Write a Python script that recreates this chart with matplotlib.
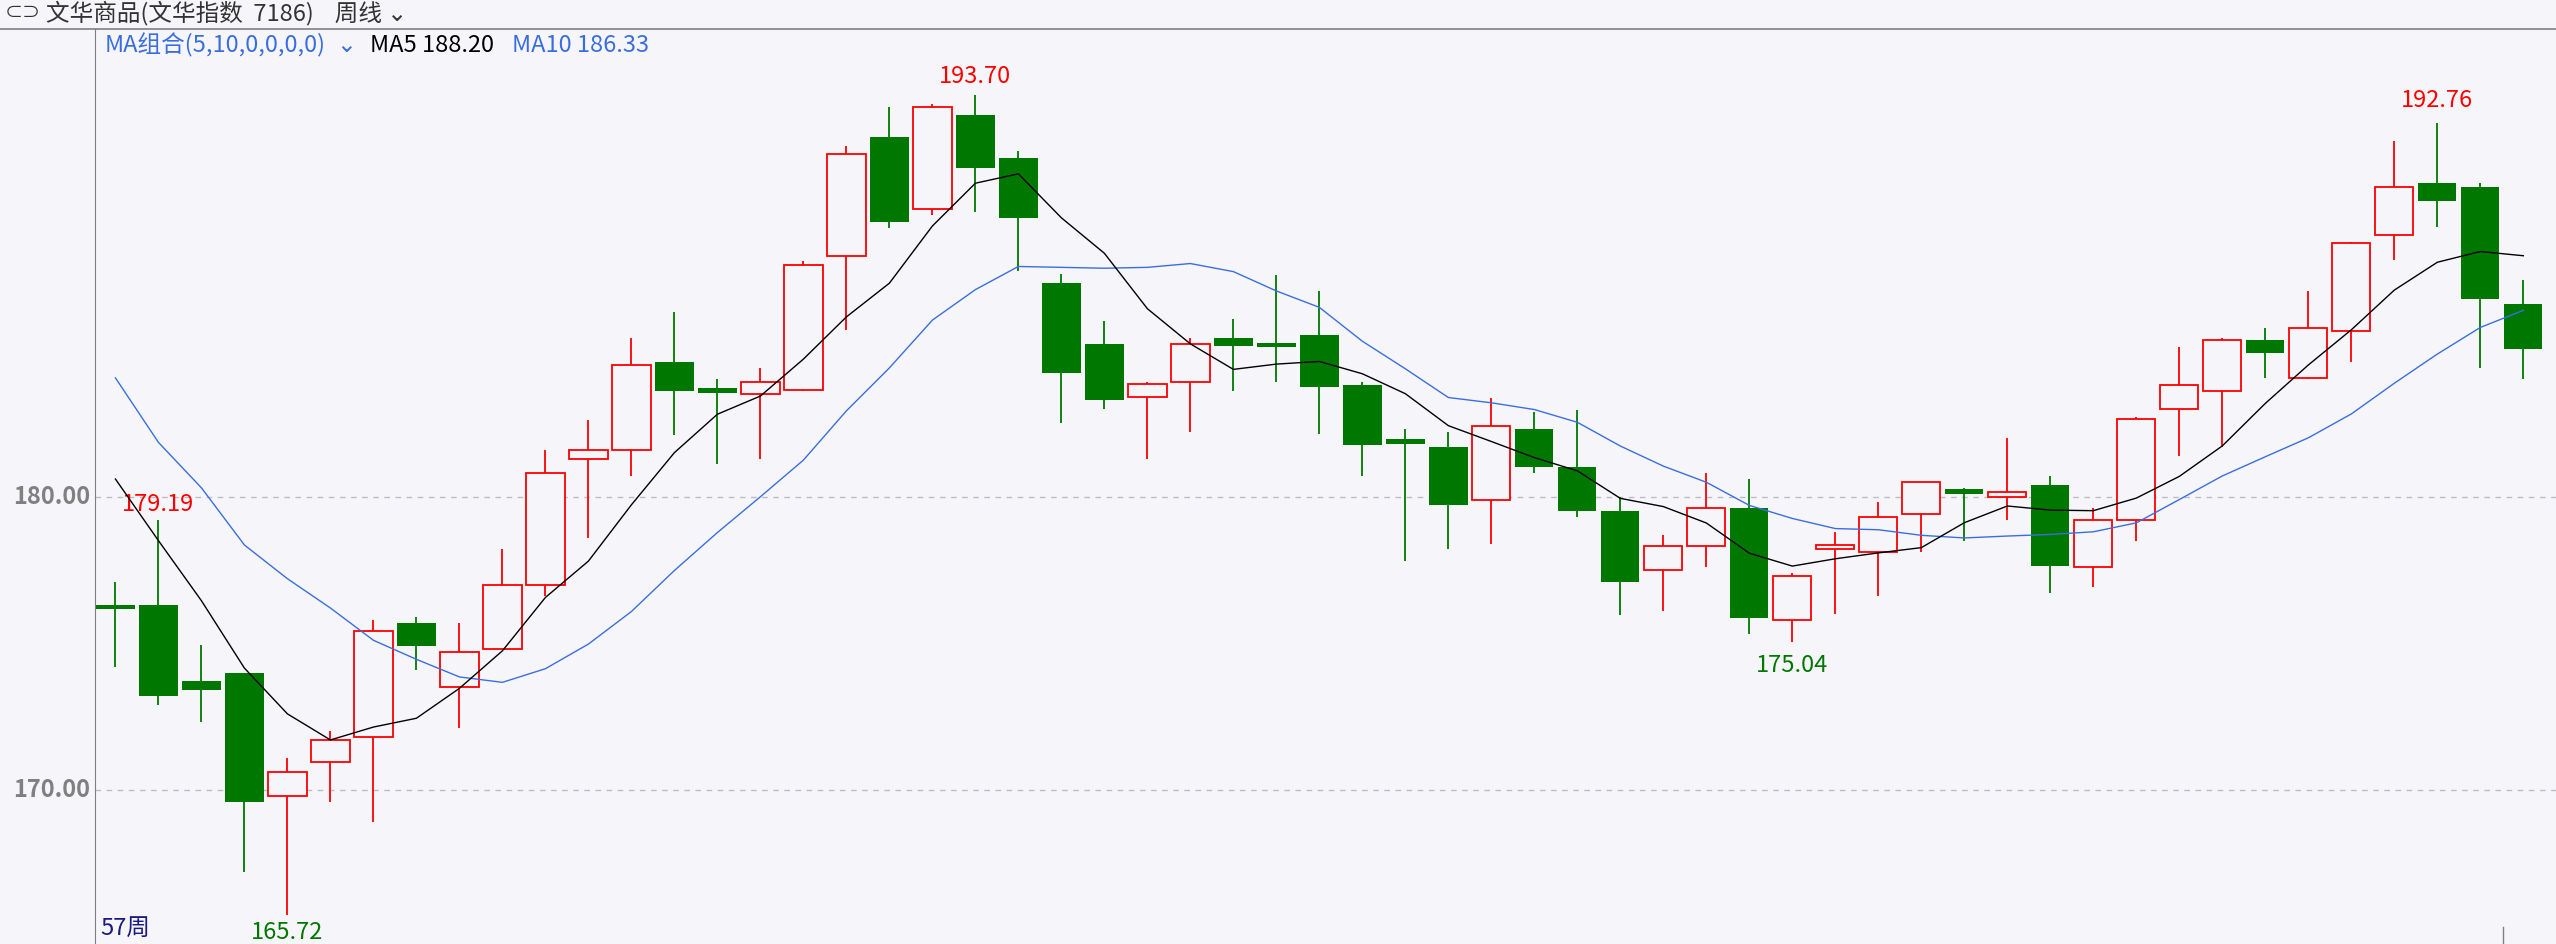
import numpy as np
import pandas as pd
import matplotlib
matplotlib.use('Agg')
import matplotlib.pyplot as plt

plt.rcParams['font.family'] = ['Noto Sans CJK SC', 'DejaVu Sans']

# 周线数据 (开, 高, 低, 收)
opens = [176.2, 176.3, 173.7, 174.0, 169.8, 170.95, 171.8, 175.7, 173.5, 174.8,
         177.0, 181.3, 181.6, 184.6, 183.6, 183.5, 183.65, 188.2, 192.25, 189.8,
         193.0, 191.55, 187.3, 185.2, 183.4, 183.9, 185.4, 185.25, 185.5, 183.8,
         181.9, 181.7, 179.9, 182.3, 181.0, 179.5, 177.5, 178.3, 179.6, 175.8,
         178.2, 178.1, 179.4, 180.15, 180.0, 180.4, 177.6, 179.2, 183.0, 183.6,
         185.35, 184.05, 185.65, 188.93, 190.7, 190.55, 186.57]
highs = [177.1, 179.19, 174.95, 174.0, 171.1, 172.0, 175.8, 175.9, 175.7, 178.2,
         181.6, 182.6, 185.4, 186.3, 184.0, 184.4, 188.05, 191.95, 193.3, 193.4,
         193.70, 191.8, 187.6, 186.0, 183.9, 185.4, 186.05, 187.55, 187.0, 183.9,
         182.3, 182.2, 183.35, 182.9, 182.95, 180.0, 178.7, 180.8, 180.6, 177.4,
         178.8, 179.8, 180.5, 180.3, 182.0, 180.7, 179.6, 182.7, 185.1, 185.4,
         185.75, 187.0, 188.7, 192.13, 192.76, 190.7, 187.4]
lows = [174.2, 172.9, 172.3, 167.2, 165.72, 169.6, 168.9, 174.1, 172.1, 174.8,
        176.6, 178.6, 180.7, 182.1, 181.1, 181.3, 183.6, 185.7, 189.15, 189.6,
        189.7, 187.7, 182.5, 183.0, 181.3, 182.2, 183.6, 183.9, 182.15, 180.7,
        177.8, 178.2, 178.4, 180.8, 179.3, 175.95, 176.1, 177.6, 175.3, 175.04,
        176.0, 176.6, 178.1, 178.5, 179.2, 176.7, 176.9, 178.5, 181.4, 181.7,
        184.05, 184.0, 184.6, 188.07, 189.18, 184.37, 184.0]
closes = [176.15, 173.2, 173.4, 169.6, 170.6, 171.7, 175.4, 174.9, 174.7, 177.0,
          180.8, 181.6, 184.5, 183.6, 183.55, 183.9, 187.9, 191.7, 189.35, 193.3,
          191.2, 189.5, 184.2, 183.3, 183.85, 185.2, 185.15, 185.1, 183.75, 181.75,
          181.8, 179.7, 182.4, 181.0, 179.5, 177.1, 178.3, 179.6, 175.85, 177.3,
          178.35, 179.3, 180.5, 180.1, 180.15, 177.65, 179.2, 182.65, 183.8, 185.35,
          184.9, 185.75, 188.65, 190.57, 190.1, 186.73, 185.03]
# 均线起始段 (依赖图外的历史数据)
ma5_head = [180.6, 178.5, 176.45, 174.15]
ma10_head = [184.05, 181.85, 180.3, 178.35, 177.2, 176.2, 175.1, 174.45, 173.85]

bg = '#f6f6fa'
red = '#ff0000'
green = '#007800'
blue = '#3a6ee0'

c = pd.Series(closes)
ma5 = c.rolling(5).mean().values
ma5[:4] = ma5_head
ma10 = c.rolling(10).mean().values
ma10[:9] = ma10_head
x = np.arange(len(closes))

fig = plt.figure(figsize=(25.56, 9.44), dpi=100, facecolor=bg)
ax = fig.add_axes([95 / 2556, 0, 1 - 95 / 2556, 915 / 944], facecolor=bg)

w = 0.89
for i in x:
    o, h, l, cl = opens[i], highs[i], lows[i], closes[i]
    if cl >= o:
        top, bot = cl, o
        ax.vlines(i, top, h, color=red, lw=1.3, zorder=2)
        ax.vlines(i, l, bot, color=red, lw=1.3, zorder=2)
        ax.bar(i, max(top - bot, 0.1), w, bottom=bot, facecolor=bg, edgecolor=red, lw=1.3, zorder=3)
    else:
        top, bot = o, cl
        ax.vlines(i, l, h, color=green, lw=1.3, zorder=2)
        ax.bar(i, max(top - bot, 0.15), w, bottom=bot, color=green, lw=0, zorder=3)

ax.plot(x, ma10, color=blue, lw=1.0, zorder=4)
ax.plot(x, ma5, color='black', lw=1.0, zorder=4)

for yv in [170, 180]:
    ax.axhline(yv, color='#bbbbc4', lw=1, ls=(0, (4, 4)), zorder=1)
    ax.annotate(f'{yv:.2f}', (0, yv), xycoords=ax.get_yaxis_transform(), xytext=(-5, 0),
                textcoords='offset pixels', ha='right', va='center',
                fontsize=17, color='#808080', fontweight='bold')

# 最高/最低价标注
ax.text(1, 179.19 + 0.15, '179.19', color=red, fontsize=17, ha='center', va='bottom')
ax.text(4, 165.72 - 0.2, '165.72', color=green, fontsize=17, ha='center', va='top')
ax.text(20, 193.70 + 0.25, '193.70', color=red, fontsize=17, ha='center', va='bottom')
ax.text(39, 175.04 - 0.4, '175.04', color=green, fontsize=17, ha='center', va='top')
ax.text(54, 192.76 + 0.35, '192.76', color=red, fontsize=17, ha='center', va='bottom')

ax.set_xlim(-0.475, 56.76)
ax.set_ylim(164.74, 195.95)
ax.set_xticks([])
ax.set_yticks([])
for s in ['top', 'right', 'bottom']:
    ax.spines[s].set_visible(False)
ax.spines['left'].set_color('#808080')

hy = 1 - 45 / 944
fig.text(105 / 2556, hy, 'MA组合(5,10,0,0,0,0)', fontsize=17, color=blue, va='center')
fig.text(336 / 2556, hy, '⌄', fontsize=17, color=blue, va='center')
fig.text(370 / 2556, hy, 'MA5 188.20', fontsize=17, color='black', va='center')
fig.text(512 / 2556, hy, 'MA10 186.33', fontsize=17, color=blue, va='center')
ax.text(0.002, 0.004, '57周', transform=ax.transAxes, fontsize=17, color='#1a1a80', va='bottom')

fig.text(0.018, 1 - 13 / 944, '文华商品(文华指数  7186)    周线 ⌄', fontsize=17, color='#333333', va='center')
fig.text(0.002, 1 - 13 / 944, '⊂⊃', fontsize=13, color='#333333', va='center')
fig.add_artist(plt.Line2D([0, 1], [1 - 29 / 944, 1 - 29 / 944], color='#808080', lw=1.2))
fig.add_artist(plt.Line2D([2503 / 2556, 2503 / 2556], [0, 17 / 944], color='#808080', lw=1))

fig.savefig('out.png', dpi=100, facecolor=bg)
